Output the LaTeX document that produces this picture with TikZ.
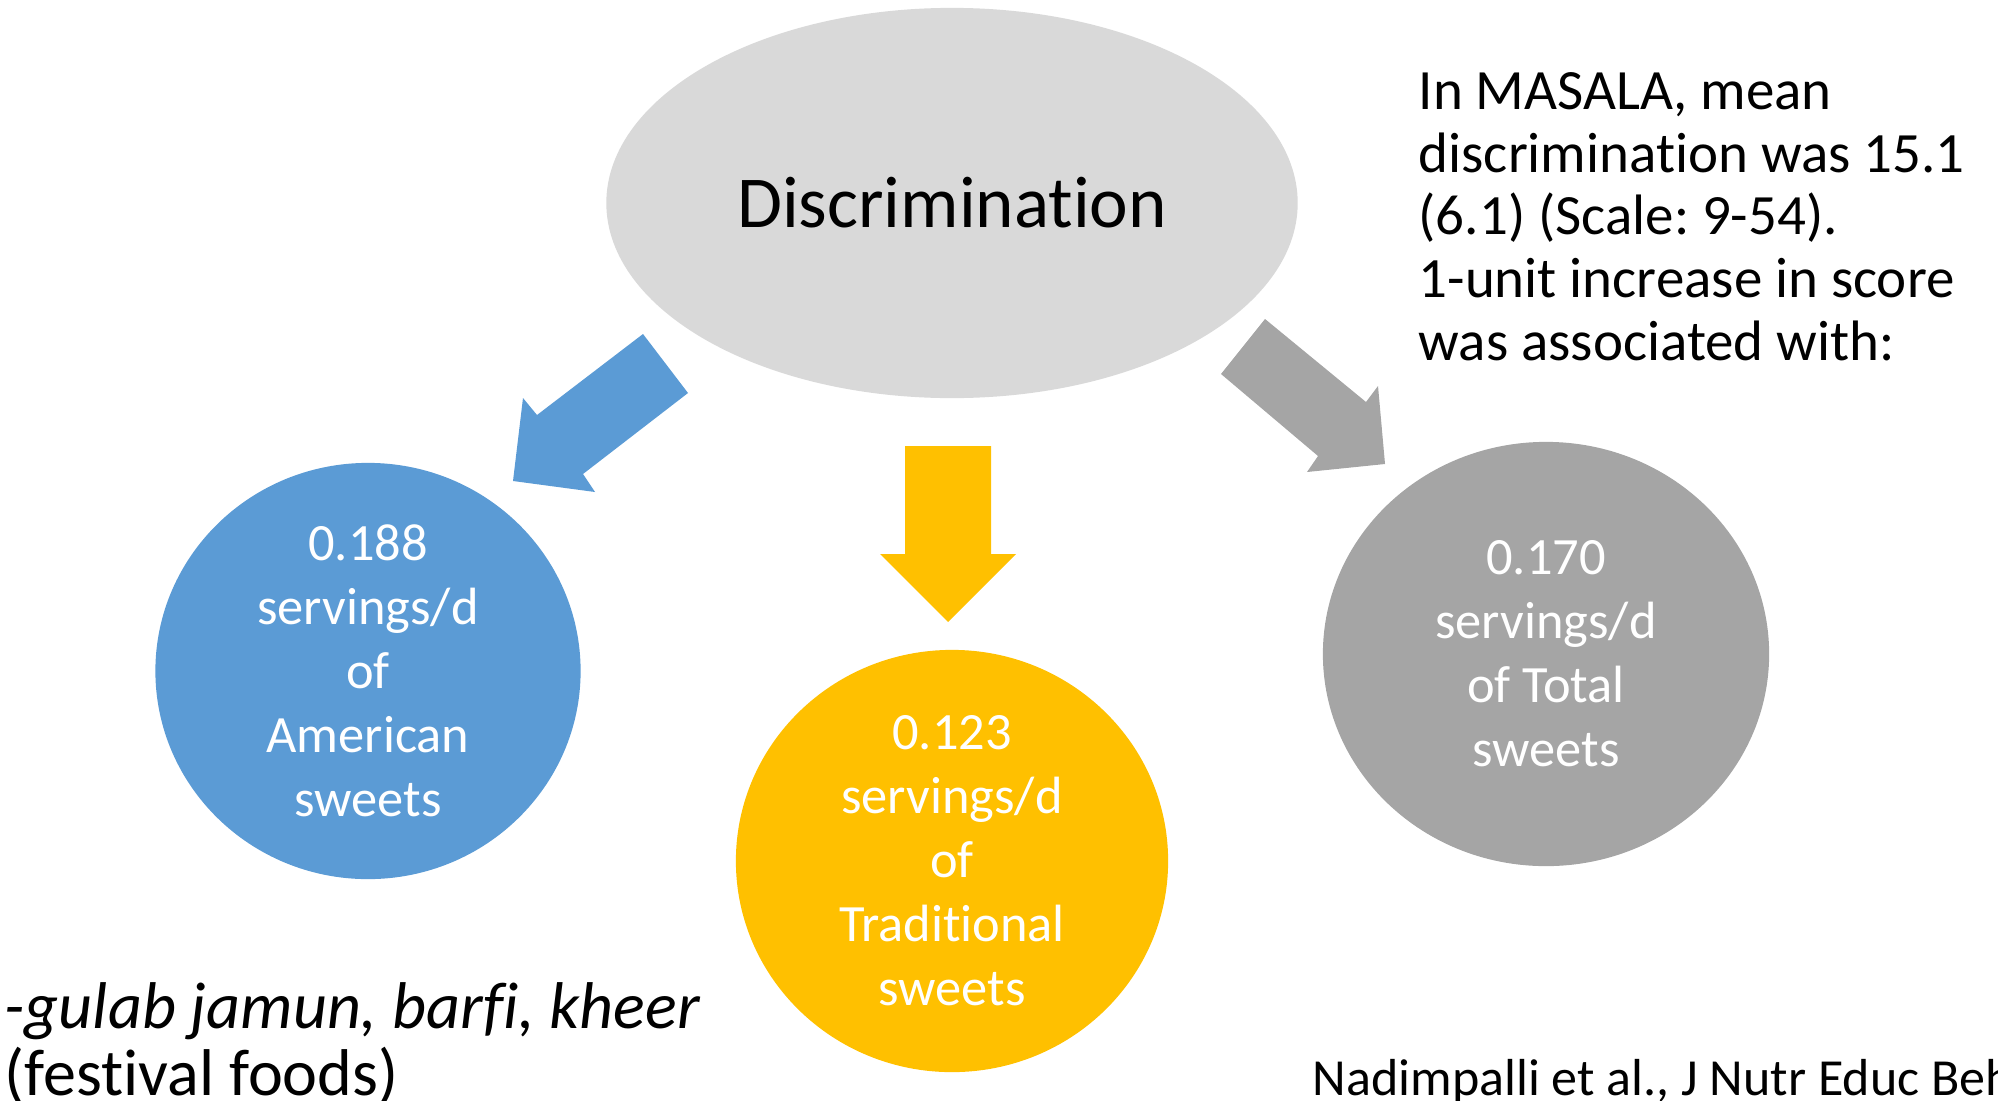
\documentclass[tikz,border=0pt]{standalone}
\usepackage{fontspec}
\setmainfont{Carlito}[Ligatures=NoCommon]
\usepackage{tikz}
\usetikzlibrary{shapes.geometric}
\frenchspacing

\definecolor{discgray}{HTML}{D9D9D9}
\definecolor{amblue}{HTML}{5B9BD5}
\definecolor{tradyellow}{HTML}{FFC000}
\definecolor{totgray}{HTML}{A5A5A5}

\begin{document}
\begin{tikzpicture}[x=0.01cm,y=-0.01cm,
        amount/.style={ellipse,inner sep=0pt,text=white,align=center,
            font=\fontsize{14.9}{18.2}\selectfont}]
        \useasboundingbox (0,0) rectangle (1998,1100);
        \node[ellipse,fill=discgray,minimum width=6.91cm,minimum height=3.9cm,inner sep=0pt,
            font=\fontsize{20.8}{25}\selectfont] (disc) at (952,203) {Discrimination};
        \node[amount,fill=amblue,minimum width=4.25cm,minimum height=4.16cm] (amer) at (368,671)
            {0.188\\servings/d\\of\\American\\sweets};
        \node[amount,fill=tradyellow,minimum width=4.32cm,minimum height=4.22cm] (trad) at (952,861)
            {0.123\\servings/d\\of\\Traditional\\sweets};
        \node[amount,fill=totgray,minimum width=4.46cm,minimum height=4.24cm] (total) at (1546,654)
            {0.170\\servings/d\\of Total\\sweets};
        % block arrows
        \fill[amblue] (643,334) -- (688,393) -- (583,474) -- (595,492) -- (513,481) -- (523,398) -- (537,415) -- cycle;
        \fill[tradyellow] (905,446) -- (991,446) -- (991,554) -- (1016,554) -- (948,622) -- (880,554) -- (905,554) -- cycle;
        \fill[totgray] (1265,319) -- (1366,402) -- (1378,386) -- (1385,464) -- (1307,472) -- (1318,456) -- (1221,374) -- cycle;
        % notes
        \node[anchor=north west,inner sep=0pt,align=left,font=\fontsize{16.2}{17.8}\selectfont] (masala) at (1418,72)
            {In MASALA, mean\\discrimination was 15.1\\(6.1) (Scale: 9-54).\\1-unit increase in score\\was associated with:};
        \node[anchor=north west,inner sep=0pt,align=left,font=\fontsize{18.8}{19}\selectfont] (foods) at (4,982)
            {\textit{-gulab jamun, barfi, kheer}\\(festival foods)};
        \node[anchor=base west,inner sep=0pt,font=\fontsize{14.8}{17}\selectfont] (cite) at (1312,1095)
            {Nadimpalli et al., J Nutr Educ Beh};
    \end{tikzpicture}
\end{document}
